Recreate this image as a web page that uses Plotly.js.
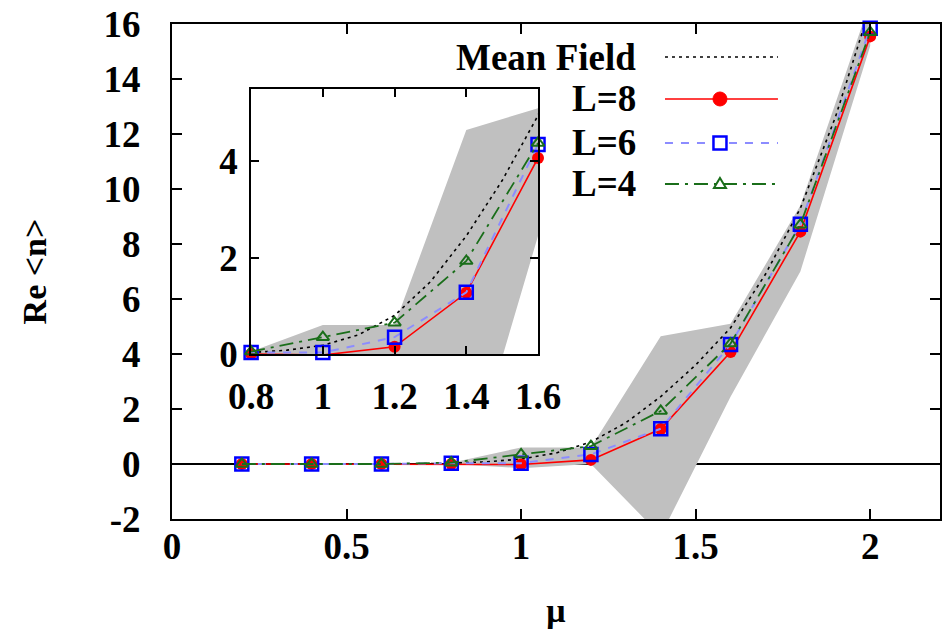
<!DOCTYPE html>
<html>
<head>
<meta charset="utf-8">
<script src="https://cdn.plot.ly/plotly-3.0.1.min.js"></script>
<style>html,body{margin:0;padding:0;background:#fff;}#chart{width:947px;height:633px;}</style>
</head>
<body>
<div id="chart"></div>
<script>
// ---- data ----
const mu   = [0.2, 0.4, 0.6, 0.8, 1.0, 1.2, 1.4, 1.6, 1.8, 2.0];
const L8   = [0.0, 0.0, 0.0, 0.0, -0.02, 0.15, 1.27, 4.07, 8.45, 15.55];
const L6   = [0.0, 0.0, 0.0, 0.03, 0.03, 0.35, 1.28, 4.35, 8.72, 15.85];
const L4   = [0.0, 0.0, 0.0, 0.05, 0.35, 0.65, 1.93, 4.38, 8.70, 15.70];
const muMF = [0.0, 0.1, 0.2, 0.3, 0.4, 0.5, 0.6, 0.7, 0.8, 0.9, 1.0, 1.1, 1.2, 1.3, 1.4, 1.5, 1.6, 1.7, 1.8, 1.9, 2.0];
const MF   = [0.0, 0.0, 0.0, 0.0, 0.0, 0.0, 0.0, 0.01, 0.03, 0.08, 0.18, 0.4, 0.8, 1.5, 2.45, 3.6, 4.95, 6.9, 9.3, 12.6, 16.6];
const bandMu = [0.8, 1.0, 1.2, 1.4, 1.6, 1.8, 2.0];
const bandHi = [0.05, 0.6, 0.6, 4.65, 5.1, 9.4, 16.8];
const bandLo = [0.0, -0.15, 0.0, -2.6, 2.45, 7.0, 15.2];

const xTicksMain = [0, 0.5, 1, 1.5, 2];
const xTickTextMain = ['0', '0.5', '1', '1.5', '2'];
const yTicksMain = [-2, 0, 2, 4, 6, 8, 10, 12, 14, 16];
const yTickTextMain = ['-2', '0', '2', '4', '6', '8', '10', '12', '14', '16'];
const xTicksInset = [0.8, 1.0, 1.2, 1.4, 1.6];
const xTickTextInset = ['0.8', '1', '1.2', '1.4', '1.6'];
const yTicksInset = [0, 2, 4];
const legendNames = ['Mean Field', 'L=8', 'L=6', 'L=4'];

// ---- styles ----
const FONT = 'Liberation Serif, Times New Roman, serif';
const RED = '#ff0000', BLUE = '#0000ff', LBLUE = 'rgb(140,140,255)', GREEN = '#1a6e1a', GREY = '#c0c0c0';
const mfLine = {color: '#000', width: 1.6, dash: '3px,4px'};
const l8Line = {color: RED, width: 1.6};
const l6Line = {color: LBLUE, width: 2, dash: '8px,8px'};
const l4Line = {color: GREEN, width: 1.8, dash: '14px,6px,3px,6px'};
const l8Mark = {symbol: 'circle', size: 12, color: RED};
const l6Mark = {symbol: 'square-open', size: 13, color: BLUE, line: {width: 2.5, color: BLUE}};
const l4Mark = {symbol: 'triangle-up-open', size: 11, color: GREEN, line: {width: 2, color: GREEN}};

function subset(xs, ys, lo, hi) {
  const X = [], Y = [];
  xs.forEach((x, i) => { if (x >= lo - 1e-9 && x <= hi + 1e-9) { X.push(x); Y.push(ys[i]); } });
  return [X, Y];
}

function tracesFor(xa, ya, lo, hi) {
  const bx = bandMu.concat(bandMu.slice().reverse());
  const by = bandHi.concat(bandLo.slice().reverse());
  const [m8x, m8y] = subset(mu, L8, lo, hi);
  const [m6x, m6y] = subset(mu, L6, lo, hi);
  const [m4x, m4y] = subset(mu, L4, lo, hi);
  return [
    {x: bx, y: by, xaxis: xa, yaxis: ya, type: 'scatter', mode: 'lines', fill: 'toself',
     fillcolor: GREY, line: {width: 0, color: GREY}, showlegend: false, hoverinfo: 'skip'},
    {x: muMF, y: MF, xaxis: xa, yaxis: ya, type: 'scatter', mode: 'lines', line: mfLine, showlegend: false},
    {x: m8x, y: m8y, xaxis: xa, yaxis: ya, type: 'scatter', mode: 'lines+markers', line: l8Line, marker: l8Mark, cliponaxis: false, showlegend: false},
    {x: m6x, y: m6y, xaxis: xa, yaxis: ya, type: 'scatter', mode: 'lines+markers', line: l6Line, marker: l6Mark, cliponaxis: false, showlegend: false},
    {x: m4x, y: m4y, xaxis: xa, yaxis: ya, type: 'scatter', mode: 'lines+markers', line: l4Line, marker: l4Mark, cliponaxis: false, showlegend: false}
  ];
}

const data = tracesFor('x', 'y', 0, 2.2).concat(tracesFor('x2', 'y2', 0.8, 1.6));

// ---- manual legend (text on the left, sample on the right) ----
const legY = [0.9333, 0.8485, 0.7596, 0.6768];
const legX0 = 0.6419, legX1 = 0.789, legXm = 0.7135, legTxtX = 0.607;
const legLines = [mfLine, l8Line, l6Line, l4Line];
const annotations = legendNames.map((t, i) => ({
  text: t, xref: 'paper', yref: 'paper', x: legTxtX, y: legY[i], xanchor: 'right', yanchor: 'middle',
  showarrow: false, font: {family: FONT, size: 37, color: '#000', weight: 'bold'}
}));
const shapes = [];
legLines.forEach((ln, i) => {
  shapes.push({type: 'line', xref: 'paper', yref: 'paper', x0: legX0, x1: legX1, y0: legY[i], y1: legY[i],
               line: {color: ln.color, width: ln.width, dash: ln.dash || 'solid'}, layer: 'above'});
});
shapes.push({type: 'circle', xref: 'paper', yref: 'paper', xsizemode: 'pixel', ysizemode: 'pixel',
             xanchor: legXm, yanchor: legY[1], x0: -7, x1: 7, y0: -7, y1: 7,
             fillcolor: RED, line: {color: RED, width: 1}, layer: 'above'});
shapes.push({type: 'rect', xref: 'paper', yref: 'paper', xsizemode: 'pixel', ysizemode: 'pixel',
             xanchor: legXm, yanchor: legY[2], x0: -6.5, x1: 6.5, y0: -6.5, y1: 6.5,
             fillcolor: 'white', line: {color: BLUE, width: 2.5}, layer: 'above'});
shapes.push({type: 'path', xref: 'paper', yref: 'paper', xsizemode: 'pixel', ysizemode: 'pixel',
             xanchor: legXm, yanchor: legY[3], path: 'M -6 -4 L 6 -4 L 0 6 Z',
             fillcolor: 'white', line: {color: GREEN, width: 2}, layer: 'above'});

const tickFont = {family: FONT, size: 37, color: '#000', weight: 'bold'};
const axCommon = {showline: true, linecolor: '#000', linewidth: 2, mirror: 'ticks', ticks: 'inside',
                  ticklen: 10, tickwidth: 2, tickcolor: '#000', showgrid: false, tickfont: tickFont};

const layout = {
  width: 947, height: 633,
  margin: {l: 172, r: 7, t: 24, b: 114},
  paper_bgcolor: '#fff', plot_bgcolor: '#fff',
  showlegend: false,
  xaxis: Object.assign({}, axCommon, {range: [0, 2.2], tickvals: xTicksMain, ticktext: xTickTextMain,
          zeroline: false, ticklabelstandoff: -6,
          title: {text: 'μ', font: {family: FONT, size: 34, color: '#000', weight: 'bold'}, standoff: 32}}),
  yaxis: Object.assign({}, axCommon, {range: [-2, 16], tickvals: yTicksMain, ticktext: yTickTextMain, zeroline: true,
          zerolinecolor: '#000', zerolinewidth: 2, ticklabelstandoff: 22,
          title: {text: 'Re &lt;n&gt;', font: {family: FONT, size: 34, color: '#000', weight: 'bold'}, standoff: 47}}),
  xaxis2: Object.assign({}, axCommon, {domain: [0.103, 0.4766], anchor: 'y2', range: [0.8, 1.6],
          tickvals: xTicksInset, ticktext: xTickTextInset, ticklen: 8, zeroline: false, ticklabelstandoff: 9}),
  yaxis2: Object.assign({}, axCommon, {domain: [0.3333, 0.8687], anchor: 'x2', range: [0, 5.5],
          tickvals: yTicksInset, ticklen: 8, zeroline: false, ticklabelstandoff: 4}),
  annotations: annotations,
  shapes: shapes
};

Plotly.newPlot('chart', data, layout, {displayModeBar: false, staticPlot: true});
</script>
</body>
</html>
